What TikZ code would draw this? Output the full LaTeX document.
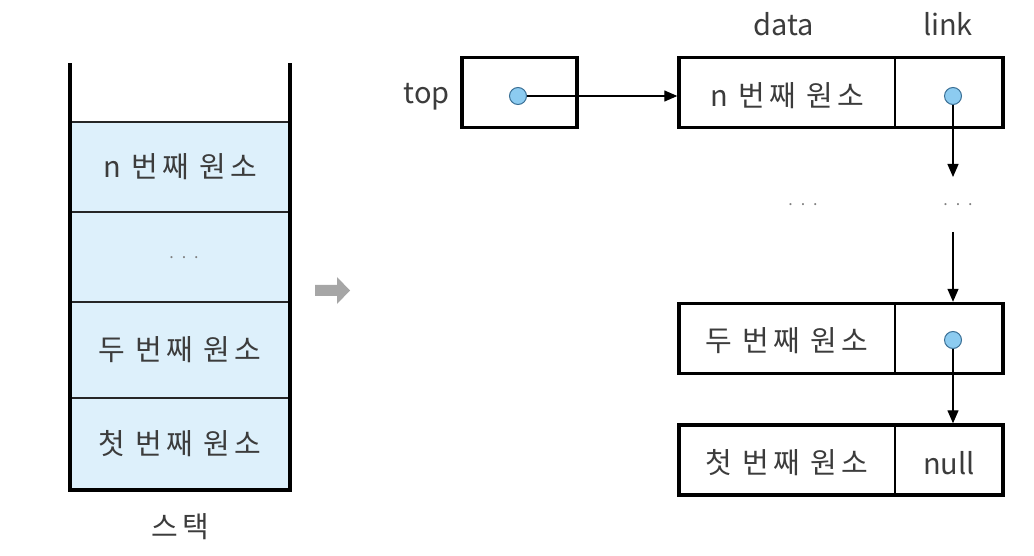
\documentclass[tikz,border=0pt]{standalone}
\usepackage{fontspec}
\setmainfont{Noto Sans CJK KR}
\usetikzlibrary{arrows.meta}
\definecolor{cellblue}{HTML}{DDF0FB}
\definecolor{dotblue}{HTML}{8CCBF0}
\definecolor{dotedge}{HTML}{3A6F95}
\definecolor{txt}{HTML}{3C3C3C}
\tikzset{
  lbl/.style={font=\fontsize{29}{32}\selectfont, text=txt, inner sep=0pt},
  kor/.style={font=\fontsize{29}{32}\selectfont\addfontfeature{LetterSpace=14}, text=txt, inner sep=0pt},
  dots/.style={font=\fontsize{16}{18}\selectfont\addfontfeature{LetterSpace=50}, text=gray, inner sep=0pt},
  cellbox/.style={draw=black!85, line width=1.8pt, fill=cellblue, minimum width=220pt, inner sep=0pt},
  recbox/.style={draw=black, line width=3.4pt, inner sep=0pt},
  ptr/.style={circle, draw=dotedge, fill=dotblue, line width=1pt, minimum size=17pt, inner sep=0pt},
  link/.style={-{Triangle[length=13pt,width=11pt]}, line width=1.3pt, black},
}
\begin{document}
\begin{tikzpicture}[x=1pt,y=-1pt]
\useasboundingbox (0,0) rectangle (1034,556);
% stack cells
\node[cellbox, minimum height=90pt] (c1) at (180,167) {};
\node[cellbox, minimum height=90pt] (c2) at (180,257) {};
\node[cellbox, minimum height=96pt] (c3) at (180,350) {};
\node[cellbox, minimum height=92pt] (c4) at (180,444) {};
\node[kor] at (c1) {n 번째 원소};
\node[dots] at (184,258) {...};
\node[kor] at (c3) {두 번째 원소};
\node[kor] at (c4) {첫 번째 원소};
\draw[line width=3.6pt, line cap=rect] (70,65) -- (70,490) -- (290,490) -- (290,65);
\node[kor] (stk) at (180,527) {스택};
% gray arrow
\fill[gray!70] (315,285) -- (337,285) -- (337,277) -- (350,290.5) -- (337,304) -- (337,296) -- (315,296) -- cycle;
% top pointer
\node[recbox, minimum width=115pt, minimum height=70pt] (topbox) at (519.5,92.5) {};
\node[lbl, anchor=east] (toplbl) at (450,97) {top};
\node[ptr] (p0) at (518,96) {};
% list nodes
\node[recbox, minimum width=324pt, minimum height=70pt] (n1) at (841,92.5) {};
\draw[line width=1.5pt] (895,57.5) -- (895,127.5);
\node[kor] (d1) at (787,96) {n 번째 원소};
\node[ptr] (p1) at (953,96) {};
\node[lbl] (datal) at (784,24) {data};
\node[lbl] (linkl) at (948,24) {link};
\node[dots] (dd) at (803,205) {...};
\node[dots] (dl) at (958,205) {...};
\coordinate (a1e) at (953,177);
\coordinate (a2s) at (953,232);
\node[recbox, minimum width=324pt, minimum height=70pt] (n2) at (841,338.5) {};
\draw[line width=1.5pt] (895,303.5) -- (895,373.5);
\node[kor] (d2) at (787,341) {두 번째 원소};
\node[ptr] (p2) at (953,340) {};
\node[recbox, minimum width=324pt, minimum height=70pt] (n3) at (841,460) {};
\draw[line width=1.5pt] (895,425) -- (895,495);
\node[kor] (d3) at (787,463) {첫 번째 원소};
\node[lbl] (nul) at (949,463) {null};
% connectors
\draw[link] (p0.east) -- (p0.east -| n1.west);
\draw[link] (p1.south) -- (a1e);
\draw[link] (a2s) -- (n2.north -| p1);
\draw[link] (p2.south) -- (n3.north -| p2);
\end{tikzpicture}
\end{document}
